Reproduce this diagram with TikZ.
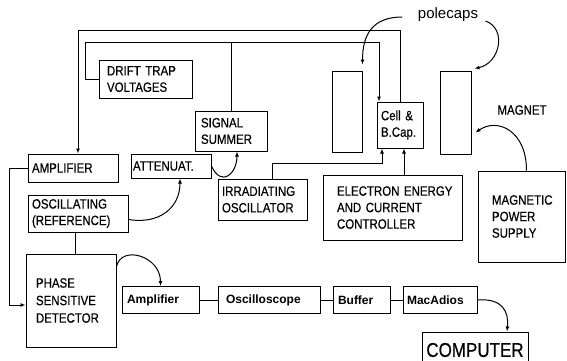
\documentclass[tikz,border=0pt]{standalone}
\usepackage{fontspec}
\setmainfont{Liberation Sans}
\newfontfamily\handfont{Liberation Sans}[FakeStretch=0.85,FakeBold=0.5]
\usetikzlibrary{arrows.meta,calc}
\newcommand\nb[1]{\mbox{#1}}
\begin{document}
\begin{tikzpicture}[x=1pt,y=-1pt,
  ln/.style={line width=1pt},
  arr/.style={line width=1pt,-{Latex[length=5pt,width=4pt]}},
  bx/.style={draw,line width=1pt,align=left,inner ysep=0pt},
  uc/.style={font=\handfont\fontsize{13.5}{16.5}\selectfont},
  lc/.style={font=\fontsize{12}{14}\selectfont\bfseries},
]
\useasboundingbox (0,0) rectangle (567,360);
\clip (0,0) rectangle (567,360);

% boxes
\node[bx,uc,inner xsep=8pt,text width=77pt,minimum height=38] (drift) at (145.5,79) {\nb{DRIFT TRAP}\\\nb{VOLTAGES}};
\node[bx,uc,inner xsep=6pt,text width=60pt,minimum height=40] (summer) at (231,131) {\nb{SIGNAL}\\\nb{SUMMER}};
\node[bx,uc,inner xsep=4pt,text width=82pt,minimum height=28] (amp) at (73,168) {\nb{AMPLIFIER}};
\node[bx,uc,inner xsep=2pt,text width=76pt,minimum height=24] (atten) at (171,166) {\nb{ATTENUAT.}};
\node[bx,uc,inner xsep=4pt,text width=92pt,minimum height=37] (oscref) at (78,213.5) {\nb{OSCILLATING}\\\nb{(REFERENCE)}};
\node[bx,uc,inner xsep=10pt,text width=70pt,minimum height=93,font=\handfont\fontsize{13.5}{17.5}\selectfont] (psd) at (71,300.5) {\nb{PHASE}\\\nb{SENSITIVE}\\\nb{DETECTOR}};
\node[bx,uc,inner xsep=4pt,text width=81pt,minimum height=41] (irr) at (262.5,199.5) {\nb{IRRADIATING}\\\nb{OSCILLATOR}};
\node[bx,uc,inner xsep=14pt,text width=111pt,minimum height=65] (elec) at (392.5,207.5) {\nb{ELECTRON ENERGY}\\\nb{AND CURRENT}\\\nb{CONTROLLER}};
\node[bx,uc,inner xsep=14pt,text width=59pt,minimum height=91] (mps) at (521.5,216.5) {\nb{MAGNETIC}\\\nb{POWER}\\\nb{SUPPLY}};
\node[bx,uc,inner xsep=4pt,text width=38pt,minimum height=46] (cell) at (400,125) {\nb{Cell \&}\\\nb{B.Cap.}};
\node[draw,line width=1pt,inner sep=0pt,minimum width=30,minimum height=81] (pcl) at (347,111.5) {};
\node[draw,line width=1pt,inner sep=0pt,minimum width=31,minimum height=83] (pcr) at (455.5,112.5) {};
\node[bx,lc,inner xsep=5pt,text width=67pt,minimum height=27] (amp2) at (160.5,300) {\nb{Amplifier}};
\node[bx,lc,inner xsep=8pt,text width=86pt,minimum height=27] (osc) at (269,300) {\nb{Oscilloscope}};
\node[bx,lc,inner xsep=5pt,text width=47pt,minimum height=27] (buf) at (361.5,300) {\nb{Buffer}};
\node[bx,lc,inner xsep=4pt,text width=66pt,minimum height=27] (mac) at (440,300) {\nb{MacAdios}};
\node[draw,line width=1pt,align=center,inner xsep=4pt,inner ysep=0pt,text width=98pt,minimum height=36,font=\handfont\fontsize{20}{22}\selectfont] (comp) at (475,350) {COMPUTER};

% free labels
\node[font=\fontsize{15}{17}\selectfont] (pclab) at (448,15) {polecaps};
\node[font=\handfont\fontsize{13.5}{15}\selectfont] (maglab) at (522,110) {MAGNET};

% connectors
\draw[arr] (cell.north) -- ++(0,-71) -| ($(amp.north)+(5,0)$);
\coordinate (t2) at (0,43);
\draw[arr] (drift.west) -- ++(-13,0) |- ($(cell.north)+(-21,-59)$) -- ($(cell.north)+(-21,0)$);
\draw[ln] (summer.north) -- (summer.north |- t2);
\draw[arr] ($(irr.north)+(10,0)$) |- ($(cell.south)+(-18,15)$) -- ($(cell.south)+(-18,0)$);
\coordinate (cs2) at ($(cell.south)+(4,0)$);
\draw[arr] (elec.north -| cs2) -- (cs2);
\coordinate (os) at ($(oscref.south)+(-3,0)$);
\draw[ln] (os) -- (os |- psd.north);
\draw[arr] (amp.west) -- ++(-18,0) |- ($(psd.west)+(0,4.5)$);
\draw[ln] (amp2) -- (osc) (osc) -- (buf) (buf) -- (mac);

% curved arrows
\draw[arr] ($(oscref.east)+(0,6)$) .. controls +(30,5) and +(0,30) .. ($(atten.south)+(9,0)$);
\draw[arr] (atten.east) .. controls +(10,22) and +(0,22) .. ($(summer.south)+(6,0)$);
\draw[arr] ($(psd.north east)+(0,13)$) .. controls +(5,-22) and +(0,-30) .. (amp2.north);
\draw[arr] (mac.east) .. controls +(25,-2) and +(2,-20) .. ($(comp.north)+(32,0)$);
\draw[arr] ($(pclab.west)+(-12,2)$) .. controls +(-30,0) and +(0,-30) .. ($(pcl.north east)+(0,-6)$);
\draw[arr] ($(pclab.east)+(4,6)$) .. controls +(22,8) and +(25,-5) .. ($(pcr.north east)+(3,-2)$);
\draw[arr] ($(mps.north)+(5,0)$) .. controls +(0,-40) and +(22,-15) .. ($(pcr.east)+(4,20)$);
\end{tikzpicture}
\end{document}
